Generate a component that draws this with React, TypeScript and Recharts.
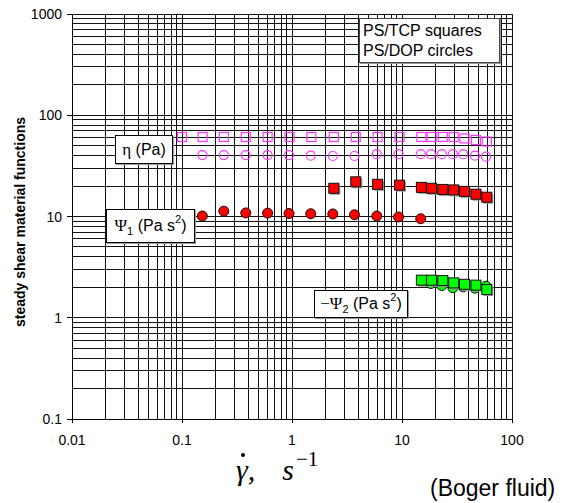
import { CartesianGrid, Scatter, ScatterChart, XAxis, YAxis } from 'recharts';

const xMajor = [0.01, 0.1, 1, 10, 100];
const yMajor = [0.1, 1, 10, 100, 1000];
const minorSteps = [2, 3, 4, 5, 6, 7, 8, 9];

// shear rates, 1/s
const tcpRate = [0.1, 0.154, 0.24, 0.38, 0.6, 0.95, 1.5, 2.4, 3.8, 6.0, 9.5, 15, 18.6, 23.5, 29.5, 37, 47, 59];
const dopRate = [0.153, 0.24, 0.38, 0.6, 0.94, 1.48, 2.35, 3.7, 5.9, 9.3, 14.8, 18.3, 23, 29, 36, 46, 58];

// eta (Pa)
const etaTcp = [61, 61, 61, 61, 61, 61, 61, 61, 61, 61, 61, 61, 61, 61, 61, 59, 57, 55];
const etaDop = [40.4, 40.4, 40.4, 40.4, 40.4, 39.9, 39.6, 39.6, 41.3, 41.3, 41.3, 41.3, 41.3, 41.3, 41.3, 39.9, 39];
// Psi1 (Pa s^2)
const psi1Tcp = [19, 22, 20.8, 20.4, 19.4, 19, 18.5, 18.3, 17.7, 16.6, 15.5];
const psi1Dop = [10.1, 11.3, 10.85, 10.8, 10.7, 10.65, 10.6, 10.4, 10.1, 9.9, 9.5];
// -Psi2 (Pa s^2)
const psi2Tcp = [2.35, 2.35, 2.33, 2.21, 2.14, 2.1, 1.9];
const psi2Dop = [2.18, 2.08, 1.98, 2.02, 1.96, 2.05];

const pts = (rates: number[], vals: number[], from: number) =>
  vals.map((v, i) => ({ x: rates[from + i], y: v }));

const gridOf = (majors: number[]) => {
  const top = majors[majors.length - 1];
  return majors.flatMap((m) => (m === top ? [m] : [m, ...minorSteps.map((s) => m * s)]));
};
const xGrid = gridOf(xMajor);
const yGrid = gridOf(yMajor);

const font = 'Arial, "Liberation Sans", sans-serif';
const serif = '"Liberation Serif", "Times New Roman", serif';

const XTick = (props: any) => {
  const { x, y, payload } = props;
  if (!xMajor.includes(payload.value)) return <g />;
  return (
    <g>
      <line x1={x} x2={x} y1={y} y2={y + 4} stroke="#000" shapeRendering="crispEdges" />
      <text x={x} y={y + 26} textAnchor="middle" fontSize={14} fontFamily={font} fill="#000">
        {String(payload.value)}
      </text>
    </g>
  );
};

const YTick = (props: any) => {
  const { x, y, payload } = props;
  if (!yMajor.includes(payload.value)) return <g />;
  return (
    <g>
      <line x1={x - 5} x2={x} y1={y} y2={y} stroke="#000" shapeRendering="crispEdges" />
      <text x={x - 10} y={y + 5} textAnchor="end" fontSize={14} fontFamily={font} fill="#000">
        {String(payload.value)}
      </text>
    </g>
  );
};

const openSquare = (color: string) => (p: any) => (
  <rect x={p.cx - 4.5} y={p.cy - 4.5} width={9} height={9} fill="none" stroke={color} strokeWidth={1.2} />
);
const openCircle = (color: string) => (p: any) => (
  <circle cx={p.cx} cy={p.cy} r={4.5} fill="none" stroke={color} strokeWidth={1.2} />
);
const filledSquare = (color: string) => (p: any) => (
  <g>
    <rect x={p.cx - 3.5} y={p.cy - 3.5} width={10} height={10} fill="#999" />
    <rect x={p.cx - 5} y={p.cy - 5} width={10} height={10} fill={color} stroke="#111" strokeWidth={1} />
  </g>
);
const filledCircle = (color: string) => (p: any) => (
  <circle cx={p.cx} cy={p.cy} r={5} fill={color} stroke="#111" strokeWidth={1} />
);

const box: React.CSSProperties = {
  position: 'absolute',
  border: '1px solid #000',
  background: '#fff',
  boxShadow: '1px 1px 0 #999',
  boxSizing: 'border-box',
  fontFamily: font,
  fontSize: 16,
  color: '#000',
  display: 'flex',
  alignItems: 'center',
  justifyContent: 'center',
  whiteSpace: 'pre',
};

export default function App() {
  return (
    <div style={{ position: 'absolute', left: 0, top: 0, width: 564, height: 503, background: '#fff' }}>
      <ScatterChart width={564} height={503} margin={{ top: 14, right: 52, bottom: 54, left: 12 }}>
        <CartesianGrid stroke="#111" strokeWidth={1} shapeRendering="crispEdges" />
        <XAxis
          dataKey="x"
          type="number"
          scale="log"
          domain={[0.01, 100]}
          ticks={xGrid}
          interval={0}
          allowDataOverflow
          height={30}
          tickSize={0}
          tickMargin={0}
          tick={XTick}
          axisLine={{ stroke: '#000', shapeRendering: 'crispEdges' }}
        />
        <YAxis
          dataKey="y"
          type="number"
          scale="log"
          domain={[0.1, 1000]}
          ticks={yGrid}
          interval={0}
          allowDataOverflow
          width={60}
          tickSize={0}
          tickMargin={0}
          tick={YTick}
          axisLine={{ stroke: '#000', shapeRendering: 'crispEdges' }}
        />
        <Scatter data={pts(tcpRate, etaTcp, 0)} shape={openSquare('#ff33ff')} isAnimationActive={false} />
        <Scatter data={pts(dopRate, etaDop, 0)} shape={openCircle('#ff33ff')} isAnimationActive={false} />
        <Scatter data={pts(tcpRate, psi1Tcp, 7)} shape={filledSquare('#ff0000')} isAnimationActive={false} />
        <Scatter data={pts(dopRate, psi1Dop, 0)} shape={filledCircle('#ff0000')} isAnimationActive={false} />
        <Scatter data={pts(dopRate, psi2Dop, 11)} shape={filledCircle('#00ff00')} isAnimationActive={false} />
        <Scatter data={pts(tcpRate, psi2Tcp, 11)} shape={filledSquare('#00ff00')} isAnimationActive={false} />
      </ScatterChart>

      <div style={{ ...box, left: 359, top: 18, width: 141, height: 45, display: 'block', padding: '2px 0 0 3px', lineHeight: '20px', border: '1px solid #444' }}>
        <div>PS/TCP squares</div>
        <div>PS/DOP circles</div>
      </div>

      <div style={{ ...box, left: 115, top: 135, width: 58, height: 29 }}>
        <span style={{ fontFamily: serif, fontSize: 17 }}>η</span> (Pa)
      </div>

      <div style={{ ...box, left: 106, top: 209, width: 89, height: 34 }}>
        <span style={{ fontFamily: serif, fontSize: 17 }}>Ψ</span>
        <span style={{ fontSize: 11, position: 'relative', top: 5 }}>1</span> (Pa s
        <span style={{ fontSize: 11, position: 'relative', top: -7 }}>2</span>)
      </div>

      <div style={{ ...box, left: 314, top: 290, width: 94, height: 28 }}>
        <span style={{ fontFamily: serif, fontSize: 17 }}>−Ψ</span>
        <span style={{ fontSize: 11, position: 'relative', top: 5 }}>2</span> (Pa s
        <span style={{ fontSize: 11, position: 'relative', top: -7 }}>2</span>)
      </div>

      <div
        style={{
          position: 'absolute',
          left: 20,
          top: 222,
          transform: 'translate(-50%, -50%) rotate(-90deg)',
          fontFamily: font,
          fontWeight: 'bold',
          fontSize: 14,
          whiteSpace: 'nowrap',
          color: '#000',
        }}
      >
        steady shear material functions
      </div>

      <div
        style={{
          position: 'absolute',
          left: 236,
          top: 455,
          fontFamily: serif,
          fontStyle: 'italic',
          fontSize: 30,
          lineHeight: '30px',
          whiteSpace: 'pre',
          color: '#000',
        }}
      >
        γ,<span style={{ marginLeft: 27 }}>s</span>
        <span style={{ fontStyle: 'normal', fontSize: 21, position: 'relative', top: -14, marginLeft: 2 }}>−1</span>
      </div>
      <div style={{ position: 'absolute', left: 241, top: 453, width: 4, height: 4, borderRadius: 2, background: '#000' }} />

      <div
        style={{
          position: 'absolute',
          left: 430,
          top: 476,
          fontFamily: font,
          fontSize: 23,
          lineHeight: '24px',
          whiteSpace: 'nowrap',
          color: '#000',
        }}
      >
        (Boger fluid)
      </div>
    </div>
  );
}
